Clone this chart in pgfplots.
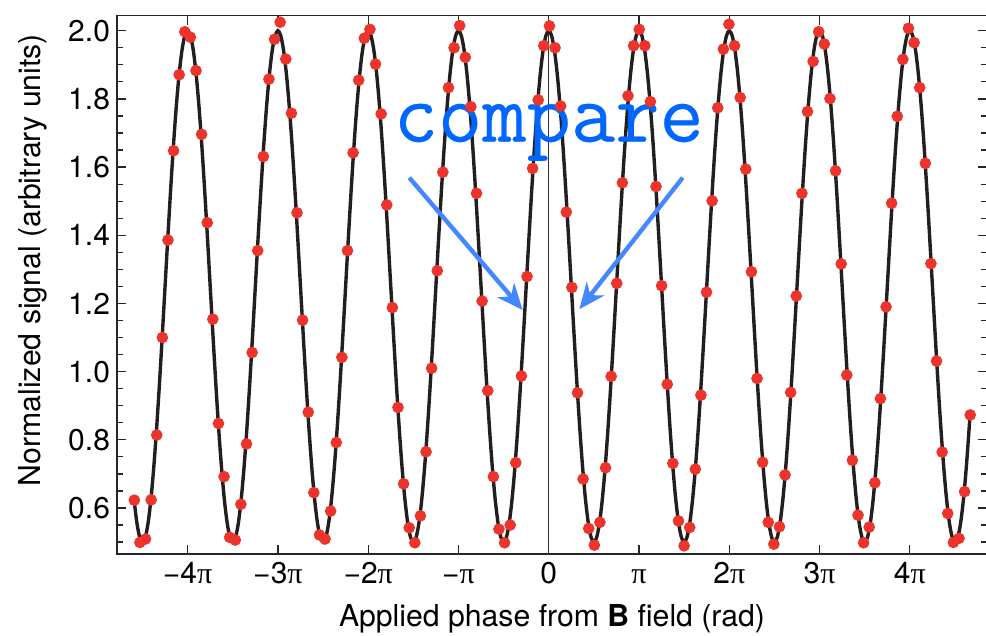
\documentclass[border=0pt]{standalone}
\usepackage{fontspec}
\setmainfont{TeX Gyre Heros}
\newfontfamily\pifont{Liberation Serif}
\newfontfamily\cmpfont[FakeBold=0.3]{Latin Modern Mono}
\usepackage{pgfplots}
\pgfplotsset{compat=1.18}
\usetikzlibrary{arrows.meta}

\definecolor{dotred}{RGB}{236,52,44}
\definecolor{fitblack}{RGB}{35,31,32}
\definecolor{txtblue}{RGB}{0,102,255}
\definecolor{arrblue}{RGB}{68,136,255}
\newcommand{\p}{{\pifont π}}

\begin{document}
\begin{tikzpicture}
\path[use as bounding box] (-58.5pt,-41pt) rectangle (434.5pt,277pt);
\begin{axis}[
  scale only axis, width=435pt, height=269.15pt,
  xmin=-4.7824, xmax=4.8544, ymin=0.4651, ymax=2.0441,
  axis line style={draw=black!85, line width=0.6pt},
  tick style={black!85, line width=0.6pt},
  tick align=inside,
  major tick length=4.5pt, minor tick length=3pt,
  xtick={-4,-3,-2,-1,0,1,2,3,4},
  xticklabels={−4\p,−3\p,−2\p,−\p,0,\p,2\p,3\p,4\p},
  xticklabel style={text height=11pt, text depth=1pt},
  ytick={0.6,0.8,1.0,1.2,1.4,1.6,1.8,2.0},
  yticklabels={0.6,0.8,1.0,1.2,1.4,1.6,1.8,2.0},
  minor ytick={0.5,0.55,0.65,0.7,0.75,0.85,0.9,0.95,1.05,1.1,1.15,1.25,1.3,1.35,1.45,1.5,1.55,1.65,1.7,1.75,1.85,1.9,1.95},
  tick label style={font=\fontsize{15}{18}\selectfont},
  label style={font=\fontsize{15.1}{18}\selectfont},
  xlabel={Applied phase from \textbf{B} field (rad)},
  ylabel={Normalized signal (arbitrary units)},
  xlabel style={at={(axis description cs:0.5,-0.1338)}, anchor=base},
  ylabel style={at={(axis description cs:-0.0874,0.546)}, anchor=base},
]
\draw[black!80, line width=0.5pt] (axis cs:0,0.4651) -- (axis cs:0,2.0441);

% fitted curve
\addplot[fitblack, line width=1.7pt, smooth, no marks] coordinates {
(-4.5907,0.6185)
(-4.5625,0.5571) (-4.53125,0.5144) (-4.5,0.5) (-4.46875,0.5144) (-4.4375,0.5571) (-4.40625,0.6264) (-4.375,0.7197) (-4.34375,0.8333) (-4.3125,0.963)
(-4.28125,1.1037) (-4.25,1.25) (-4.21875,1.3963) (-4.1875,1.537) (-4.15625,1.6667) (-4.125,1.7803) (-4.09375,1.8736) (-4.0625,1.9429) (-4.03125,1.9856)
(-4,2) (-3.96875,1.9856) (-3.9375,1.9429) (-3.90625,1.8736) (-3.875,1.7803) (-3.84375,1.6667) (-3.8125,1.537) (-3.78125,1.3963)
(-3.75,1.25) (-3.71875,1.1037) (-3.6875,0.963) (-3.65625,0.8333) (-3.625,0.7197) (-3.59375,0.6264) (-3.5625,0.5571) (-3.53125,0.5144)
(-3.5,0.5) (-3.46875,0.5144) (-3.4375,0.5571) (-3.40625,0.6264) (-3.375,0.7197) (-3.34375,0.8333) (-3.3125,0.963) (-3.28125,1.1037)
(-3.25,1.25) (-3.21875,1.3963) (-3.1875,1.537) (-3.15625,1.6667) (-3.125,1.7803) (-3.09375,1.8736) (-3.0625,1.9429) (-3.03125,1.9856)
(-3,2) (-2.96875,1.9856) (-2.9375,1.9429) (-2.90625,1.8736) (-2.875,1.7803) (-2.84375,1.6667) (-2.8125,1.537) (-2.78125,1.3963)
(-2.75,1.25) (-2.71875,1.1037) (-2.6875,0.963) (-2.65625,0.8333) (-2.625,0.7197) (-2.59375,0.6264) (-2.5625,0.5571) (-2.53125,0.5144)
(-2.5,0.5) (-2.46875,0.5144) (-2.4375,0.5571) (-2.40625,0.6264) (-2.375,0.7197) (-2.34375,0.8333) (-2.3125,0.963) (-2.28125,1.1037)
(-2.25,1.25) (-2.21875,1.3963) (-2.1875,1.537) (-2.15625,1.6667) (-2.125,1.7803) (-2.09375,1.8736) (-2.0625,1.9429) (-2.03125,1.9856)
(-2,2) (-1.96875,1.9856) (-1.9375,1.9429) (-1.90625,1.8736) (-1.875,1.7803) (-1.84375,1.6667) (-1.8125,1.537) (-1.78125,1.3963)
(-1.75,1.25) (-1.71875,1.1037) (-1.6875,0.963) (-1.65625,0.8333) (-1.625,0.7197) (-1.59375,0.6264) (-1.5625,0.5571) (-1.53125,0.5144)
(-1.5,0.5) (-1.46875,0.5144) (-1.4375,0.5571) (-1.40625,0.6264) (-1.375,0.7197) (-1.34375,0.8333) (-1.3125,0.963) (-1.28125,1.1037)
(-1.25,1.25) (-1.21875,1.3963) (-1.1875,1.537) (-1.15625,1.6667) (-1.125,1.7803) (-1.09375,1.8736) (-1.0625,1.9429) (-1.03125,1.9856)
(-1,2) (-0.96875,1.9856) (-0.9375,1.9429) (-0.90625,1.8736) (-0.875,1.7803) (-0.84375,1.6667) (-0.8125,1.537) (-0.78125,1.3963)
(-0.75,1.25) (-0.71875,1.1037) (-0.6875,0.963) (-0.65625,0.8333) (-0.625,0.7197) (-0.59375,0.6264) (-0.5625,0.5571) (-0.53125,0.5144)
(-0.5,0.5) (-0.46875,0.5144) (-0.4375,0.5571) (-0.40625,0.6264) (-0.375,0.7197) (-0.34375,0.8333) (-0.3125,0.963) (-0.28125,1.1037)
(-0.25,1.25) (-0.21875,1.3963) (-0.1875,1.537) (-0.15625,1.6667) (-0.125,1.7803) (-0.09375,1.8736) (-0.0625,1.9429) (-0.03125,1.9856)
(0,2) (0.03125,1.9856) (0.0625,1.9429) (0.09375,1.8736) (0.125,1.7803) (0.15625,1.6667) (0.1875,1.537) (0.21875,1.3963)
(0.25,1.25) (0.28125,1.1037) (0.3125,0.963) (0.34375,0.8333) (0.375,0.7197) (0.40625,0.6264) (0.4375,0.5571) (0.46875,0.5144)
(0.5,0.5) (0.53125,0.5144) (0.5625,0.5571) (0.59375,0.6264) (0.625,0.7197) (0.65625,0.8333) (0.6875,0.963) (0.71875,1.1037)
(0.75,1.25) (0.78125,1.3963) (0.8125,1.537) (0.84375,1.6667) (0.875,1.7803) (0.90625,1.8736) (0.9375,1.9429) (0.96875,1.9856)
(1,2) (1.03125,1.9856) (1.0625,1.9429) (1.09375,1.8736) (1.125,1.7803) (1.15625,1.6667) (1.1875,1.537) (1.21875,1.3963)
(1.25,1.25) (1.28125,1.1037) (1.3125,0.963) (1.34375,0.8333) (1.375,0.7197) (1.40625,0.6264) (1.4375,0.5571) (1.46875,0.5144)
(1.5,0.5) (1.53125,0.5144) (1.5625,0.5571) (1.59375,0.6264) (1.625,0.7197) (1.65625,0.8333) (1.6875,0.963) (1.71875,1.1037)
(1.75,1.25) (1.78125,1.3963) (1.8125,1.537) (1.84375,1.6667) (1.875,1.7803) (1.90625,1.8736) (1.9375,1.9429) (1.96875,1.9856)
(2,2) (2.03125,1.9856) (2.0625,1.9429) (2.09375,1.8736) (2.125,1.7803) (2.15625,1.6667) (2.1875,1.537) (2.21875,1.3963)
(2.25,1.25) (2.28125,1.1037) (2.3125,0.963) (2.34375,0.8333) (2.375,0.7197) (2.40625,0.6264) (2.4375,0.5571) (2.46875,0.5144)
(2.5,0.5) (2.53125,0.5144) (2.5625,0.5571) (2.59375,0.6264) (2.625,0.7197) (2.65625,0.8333) (2.6875,0.963) (2.71875,1.1037)
(2.75,1.25) (2.78125,1.3963) (2.8125,1.537) (2.84375,1.6667) (2.875,1.7803) (2.90625,1.8736) (2.9375,1.9429) (2.96875,1.9856)
(3,2) (3.03125,1.9856) (3.0625,1.9429) (3.09375,1.8736) (3.125,1.7803) (3.15625,1.6667) (3.1875,1.537) (3.21875,1.3963)
(3.25,1.25) (3.28125,1.1037) (3.3125,0.963) (3.34375,0.8333) (3.375,0.7197) (3.40625,0.6264) (3.4375,0.5571) (3.46875,0.5144)
(3.5,0.5) (3.53125,0.5144) (3.5625,0.5571) (3.59375,0.6264) (3.625,0.7197) (3.65625,0.8333) (3.6875,0.963) (3.71875,1.1037)
(3.75,1.25) (3.78125,1.3963) (3.8125,1.537) (3.84375,1.6667) (3.875,1.7803) (3.90625,1.8736) (3.9375,1.9429) (3.96875,1.9856)
(4,2) (4.03125,1.9856) (4.0625,1.9429) (4.09375,1.8736) (4.125,1.7803) (4.15625,1.6667) (4.1875,1.537) (4.21875,1.3963)
(4.25,1.25) (4.28125,1.1037) (4.3125,0.963) (4.34375,0.8333) (4.375,0.7197) (4.40625,0.6264) (4.4375,0.5571) (4.46875,0.5144)
(4.5,0.5) (4.53125,0.5144) (4.5625,0.5571) (4.59375,0.6264) (4.625,0.7197) (4.65625,0.8333) (4.6682,0.8813)
};

% measured points
\addplot[only marks, mark=*, mark size=2.7pt, mark options={draw=dotred, fill=dotred}] coordinates {
(-4.5907,0.623) (-4.5286,0.499) (-4.4664,0.509) (-4.4043,0.624) (-4.3421,0.814) (-4.2800,1.100) (-4.2179,1.386) (-4.1557,1.648) (-4.0936,1.871) (-4.0314,1.997)
(-3.9693,1.981) (-3.9072,1.883) (-3.8450,1.696) (-3.7829,1.437) (-3.7207,1.154) (-3.6586,0.848) (-3.5965,0.692) (-3.5343,0.514) (-3.4722,0.506) (-3.4100,0.611)
(-3.3479,0.788) (-3.2858,1.056) (-3.2236,1.355) (-3.1615,1.631) (-3.0993,1.858) (-3.0372,1.975) (-2.9751,2.025) (-2.9129,1.917) (-2.8508,1.758) (-2.7886,1.466)
(-2.7265,1.151) (-2.6644,0.881) (-2.6022,0.645) (-2.5401,0.521) (-2.4779,0.509) (-2.4158,0.591) (-2.3537,0.792) (-2.2915,1.042) (-2.2294,1.355) (-2.1672,1.642)
(-2.1051,1.855) (-2.0430,1.978) (-1.9808,2.004) (-1.9187,1.902) (-1.8565,1.756) (-1.7944,1.489) (-1.7323,1.188) (-1.6701,0.895) (-1.6080,0.671) (-1.5458,0.542)
(-1.4837,0.498) (-1.4216,0.577) (-1.3594,0.765) (-1.2973,1.010) (-1.2351,1.296) (-1.1730,1.585) (-1.1109,1.833) (-1.0487,1.950) (-0.9866,2.015) (-0.9244,1.922)
(-0.8623,1.777) (-0.8002,1.523) (-0.7380,1.207) (-0.6759,0.944) (-0.6137,0.692) (-0.5516,0.538) (-0.4895,0.498) (-0.4273,0.550) (-0.3652,0.733) (-0.3030,0.987)
(-0.2409,1.279) (-0.1788,1.596) (-0.1166,1.797) (-0.0545,1.956) (0.0077,2.014) (0.0698,1.950) (0.1319,1.779) (0.1941,1.468) (0.2562,1.247) (0.3184,0.938)
(0.3805,0.685) (0.4426,0.540) (0.5048,0.491) (0.5669,0.558) (0.6291,0.718) (0.6912,0.986) (0.7533,1.259) (0.8155,1.554) (0.8776,1.809) (0.9398,1.956)
(1.0019,2.004) (1.0640,1.956) (1.1262,1.792) (1.1883,1.543) (1.2505,1.252) (1.3126,0.963) (1.3747,0.731) (1.4369,0.562) (1.4990,0.489) (1.5612,0.543)
(1.6233,0.714) (1.6854,0.931) (1.7476,1.233) (1.8097,1.501) (1.8719,1.774) (1.9340,1.946) (1.9961,2.019) (2.0583,1.956) (2.1204,1.804) (2.1826,1.594)
(2.2447,1.293) (2.3068,0.980) (2.3690,0.734) (2.4311,0.558) (2.4933,0.494) (2.5554,0.545) (2.6175,0.697) (2.6797,0.939) (2.7418,1.222) (2.8040,1.523)
(2.8661,1.763) (2.9282,1.910) (2.9904,1.997) (3.0525,1.961) (3.1147,1.801) (3.1768,1.589) (3.2389,1.316) (3.3011,0.990) (3.3632,0.740) (3.4254,0.579)
(3.4875,0.498) (3.5496,0.544) (3.6118,0.674) (3.6739,0.921) (3.7361,1.190) (3.7982,1.494) (3.8603,1.749) (3.9225,1.916) (3.9846,2.007) (4.0468,1.965)
(4.1089,1.833) (4.1710,1.611) (4.2332,1.317) (4.2953,1.031) (4.3575,0.764) (4.4196,0.584) (4.4817,0.499) (4.5439,0.511) (4.6060,0.648) (4.6682,0.873)
};

\node[anchor=base, text=txtblue, font=\cmpfont\fontsize{43}{46}\selectfont, inner sep=0pt] at (axis cs:0,1.6745) {compare};
\draw[arrblue, line width=2.2pt, -{Stealth[length=13pt, width=11pt, inset=4pt]}] (axis cs:-1.5446,1.5689) -- (axis cs:-0.2885,1.1808);
\draw[arrblue, line width=2.2pt, -{Stealth[length=13pt, width=11pt, inset=4pt]}] (axis cs:1.4837,1.5689) -- (axis cs:0.3384,1.1829);
\end{axis}
\end{tikzpicture}
\end{document}
